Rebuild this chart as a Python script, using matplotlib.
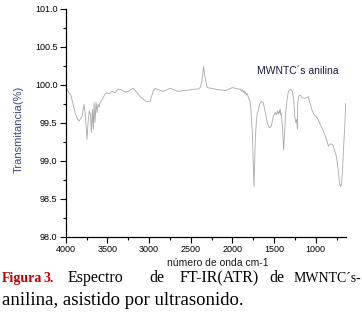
import matplotlib
matplotlib.use("Agg")
import matplotlib.pyplot as plt
from matplotlib.ticker import MultipleLocator

# Spectrum data (wavenumber cm-1, transmittance %)
wavenumber = [
    4000, 3957, 3940, 3912, 3888, 3860, 3840, 3828, 3804, 3780, 3768, 3756, 3744,
    3732, 3716, 3704, 3692, 3680, 3668, 3660, 3648, 3636, 3624, 3612, 3600, 3588,
    3564, 3540, 3516, 3480, 3443, 3407, 3371, 3330, 3287, 3250, 3191, 3150, 3107,
    3060, 3027, 2986, 2955, 2926, 2880, 2830, 2806, 2746, 2700, 2650, 2600, 2566,
    2500, 2450, 2410, 2385, 2365, 2346, 2330, 2302, 2250, 2206, 2150, 2085, 2040,
    2000, 1960, 1930, 1905, 1890, 1880, 1869, 1860, 1850, 1840, 1833, 1820, 1806,
    1795, 1785, 1777, 1761, 1749, 1740, 1733, 1725, 1713, 1701, 1689, 1674, 1653,
    1629, 1605, 1581, 1557, 1533, 1509, 1484, 1475, 1460, 1448, 1436, 1430, 1424,
    1418, 1412, 1400, 1384, 1372, 1360, 1344, 1328, 1304, 1280, 1264, 1252, 1240,
    1228, 1220, 1216, 1204, 1184, 1160, 1124, 1088, 1076, 1040, 1016, 980, 944,
    920, 883, 847, 823, 799, 775, 751, 733, 715, 703, 691, 679, 667, 649, 640,
]
transmittance = [
    99.98, 99.88, 99.87, 99.74, 99.63, 99.55, 99.52, 99.54, 99.58, 99.74, 99.63, 99.45, 99.28,
    99.50, 99.65, 99.61, 99.37, 99.67, 99.41, 99.76, 99.50, 99.77, 99.63, 99.74, 99.70, 99.76,
    99.80, 99.85, 99.89, 99.88, 99.91, 99.89, 99.94, 99.93, 99.90, 99.91, 99.95, 99.90, 99.84,
    99.80, 99.77, 99.78, 99.90, 99.95, 99.93, 99.91, 99.92, 99.95, 99.93, 99.91, 99.92, 99.92,
    99.93, 99.94, 99.94, 99.96, 100.05, 100.24, 100.10, 99.96, 99.95, 99.94, 99.93, 99.92, 99.94,
    99.96, 99.95, 99.94, 99.94, 99.91, 99.93, 99.90, 99.92, 99.88, 99.90, 99.86, 99.88, 99.82,
    99.80, 99.76, 99.67, 99.36, 98.97, 98.66, 98.97, 99.28, 99.50, 99.63, 99.65, 99.74, 99.78,
    99.76, 99.63, 99.50, 99.43, 99.45, 99.58, 99.63, 99.60, 99.65, 99.61, 99.66, 99.62, 99.67,
    99.60, 99.61, 99.45, 99.14, 99.41, 99.63, 99.80, 99.91, 99.94, 99.91, 99.80, 99.58, 99.50,
    99.54, 99.42, 99.76, 99.85, 99.86, 99.82, 99.82, 99.84, 99.78, 99.65, 99.60, 99.56, 99.47,
    99.42, 99.32, 99.19, 99.22, 99.21, 99.14, 99.05, 98.90, 98.71, 98.66, 98.68, 98.85, 99.14, 99.50, 99.75,
]

x_ticks = [4000, 3500, 3000, 2500, 2000, 1500, 1000]
y_ticks = [98.0, 98.5, 99.0, 99.5, 100.0, 100.5, 101.0]

fig = plt.figure(figsize=(3.62, 3.19), dpi=100)
ax = fig.add_axes([0.1815, 0.2586, 0.7735, 0.7147])

ax.plot(wavenumber, transmittance, color="#a8a8a8", lw=0.6)

ax.set_xlim(4000, 640)
ax.set_ylim(98.0, 101.0)
ax.set_xticks(x_ticks)
ax.set_yticks(y_ticks)
ax.set_yticklabels([f"{v:.1f}" for v in y_ticks])
ax.xaxis.set_minor_locator(MultipleLocator(250))
ax.yaxis.set_minor_locator(MultipleLocator(0.25))

for s in ["top", "right"]:
    ax.spines[s].set_visible(False)
for s in ["left", "bottom"]:
    ax.spines[s].set_linewidth(0.9)
    ax.spines[s].set_color("black")

ax.tick_params(which="major", direction="out", length=4.5, width=0.8,
               labelsize=6.5, pad=1.5)
ax.tick_params(which="minor", direction="out", length=2.5, width=0.8)
for lab in ax.get_xticklabels() + ax.get_yticklabels():
    lab.set_fontfamily("Liberation Sans")

ax.set_ylabel("Transmitancia(%)", fontsize=8, color="#3a4a7a",
              fontfamily="Liberation Sans")
ax.yaxis.set_label_coords(-0.15, 0.47)
ax.set_xlabel("número de onda cm-1", fontsize=7.5, color="#1a1a1a",
              fontfamily="Liberation Sans")
ax.xaxis.set_label_coords(0.545, -0.095)

ax.text(1220, 100.18, "MWNTC´s anilina", fontsize=7.5, color="#1a1a40",
        ha="center", va="center", fontfamily="Liberation Sans")

# Caption (justified line placed word by word)
W, H = 362, 319
def fx(px):
    return px / W
def fy(py):
    return 1 - py / H

serif = "Liberation Serif"
fig.text(fx(2), fy(282), "Figura", fontsize=10, color="#c00000",
         fontweight="bold", fontfamily=serif, va="baseline")
fig.text(fx(44), fy(282), "3.", fontsize=10, color="#c00000",
         fontweight="bold", fontfamily=serif, va="baseline")
line1 = [(68, "Espectro"), (149, "de"), (180, "FT-IR(ATR)"), (269, "de")]
for px, w in line1:
    fig.text(fx(px), fy(282), w, fontsize=11.5, color="black",
             fontfamily=serif, va="baseline")
fig.text(fx(361), fy(282), "MWNTC´s-", fontsize=10, color="black",
         fontfamily=serif, va="baseline", ha="right")
fig.text(fx(2), fy(305), "anilina, asistido por ultrasonido.", fontsize=13.5,
         color="black", fontfamily=serif, va="baseline")

fig.savefig("out.png", dpi=100, facecolor="white")
